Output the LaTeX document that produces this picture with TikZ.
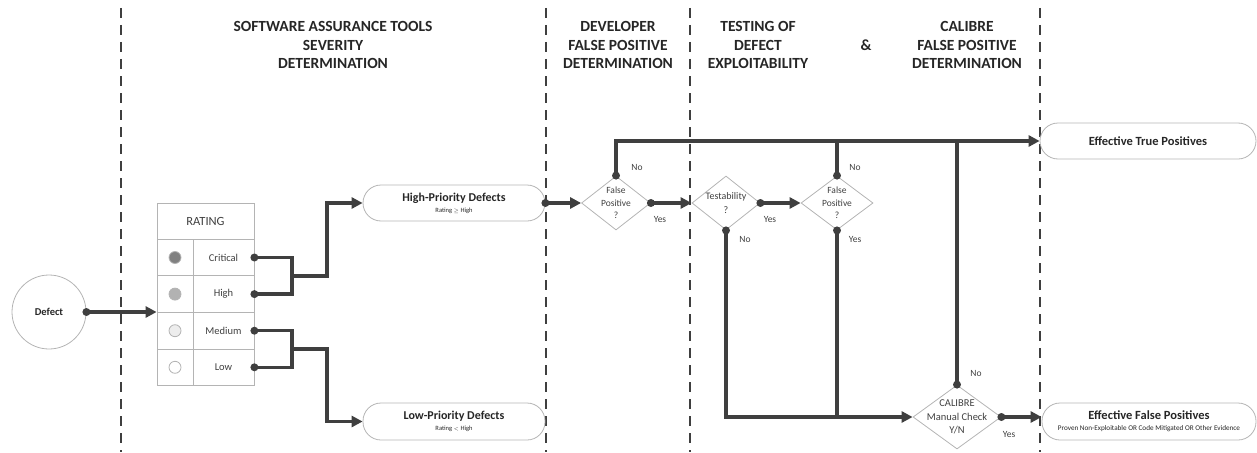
\documentclass[tikz,border=0pt]{standalone}
\usepackage{fontspec}
\setmainfont{Carlito}
\usetikzlibrary{arrows.meta,shapes.geometric}
\definecolor{conncol}{HTML}{3F3F3F}
\definecolor{bord}{HTML}{B4B4B4}
\definecolor{txt}{HTML}{262626}
\definecolor{lbltxt}{HTML}{404040}
\begin{document}
\begin{tikzpicture}[x=1pt,y=-1pt,
  lane/.style={draw=conncol, line width=1.6, dash pattern=on 10 off 7},
  title/.style={font=\bfseries\fontsize{15.5}{18.5}\selectfont, text=txt, align=center, inner sep=0},
  conn/.style={draw=conncol, line width=3.5, -{Triangle[length=11,width=11]}},
  link/.style={draw=conncol, line width=3.5},
  dec/.style={draw=bord, line width=0.8, shape=diamond, inner sep=0},
  dtext/.style={align=center, text=lbltxt, inner sep=0},
  pill/.style={draw=bord, line width=0.8, rounded corners=18, align=center, inner sep=0, text=txt},
  cell/.style={draw=bord, line width=0.8, inner sep=0, minimum height=36.6, font=\fontsize{10.5}{12}\selectfont, text=lbltxt},
  bullet/.style={circle, draw=bord, line width=0.8, minimum size=12, inner sep=0},
  lbl/.style={font=\fontsize{9.5}{11}\selectfont, text=lbltxt, inner sep=0},
]
\useasboundingbox (0,0) rectangle (1257,452);

% lanes
\draw[lane] (121,8) -- (121,452);
\draw[lane] (546,8) -- (546,452);
\draw[lane] (690,8) -- (690,452);
\draw[lane] (1040,8) -- (1040,452);

% titles
\node[title] (t1) at (333,45) {SOFTWARE ASSURANCE TOOLS\\SEVERITY\\DETERMINATION};
\node[title] (t2) at (618,45) {DEVELOPER\\FALSE POSITIVE\\DETERMINATION};
\node[title] (t3) at (758,45) {TESTING OF\\DEFECT\\EXPLOITABILITY};
\node[title] (t4) at (866,45) {\&};
\node[title] (t5) at (967,45) {CALIBRE\\FALSE POSITIVE\\DETERMINATION};

% defect
\node[circle, draw=bord, line width=0.8, minimum size=74, inner sep=0,
  font=\bfseries\fontsize{10.5}{12}\selectfont, text=txt] (defect) at (49,312) {Defect};

% rating table
\node[cell, minimum width=97, minimum height=36, font=\fontsize{12.5}{14}\selectfont] (hdr) at (205.5,221) {RATING};
\node[cell, minimum width=36] (c1) at (175,257.5) {};
\node[cell, minimum width=61] (crit) at (223.5,257.5) {Critical};
\node[cell, minimum width=36] (c2) at (175,294.1) {};
\node[cell, minimum width=61] (high) at (223.5,294.1) {High};
\node[cell, minimum width=36] (c3) at (175,330.7) {};
\node[cell, minimum width=61] (med) at (223.5,330.7) {Medium};
\node[cell, minimum width=36] (c4) at (175,367.3) {};
\node[cell, minimum width=61] (low) at (223.5,367.3) {Low};
\node[bullet, fill=black!50] (b1) at (c1) {};
\node[bullet, fill=black!30] (b2) at (c2) {};
\node[bullet, fill=black!7] (b3) at (c3) {};
\node[bullet, fill=white] (b4) at (c4) {};

% priority nodes
\node[pill, minimum width=182, minimum height=36] (hp) at (454,203)
  {{\bfseries\fontsize{12}{13}\selectfont High-Priority Defects}\\[-1pt]{\fontsize{6.5}{8}\selectfont Rating \ensuremath{\scriptstyle\geq} High}};
\node[pill, minimum width=182, minimum height=37] (lp) at (454,421.5)
  {{\bfseries\fontsize{12}{13}\selectfont Low-Priority Defects}\\[-1pt]{\fontsize{6.5}{8}\selectfont Rating \ensuremath{\scriptstyle<} High}};

% decisions
\node[dec, minimum width=69, minimum height=54,
  label={[dtext, font=\fontsize{9.5}{12.5}\selectfont]center:False\\Positive\\?}] (d1) at (616,203) {};
\node[dec, minimum width=68, minimum height=54,
  label={[dtext, font=\fontsize{10}{13.5}\selectfont]center:Testability\\?}] (tst) at (726,203) {};
\node[dec, minimum width=72, minimum height=54,
  label={[dtext, font=\fontsize{9.5}{12.5}\selectfont]center:False\\Positive\\?}] (d3) at (837,203) {};
\node[dec, minimum width=88, minimum height=64,
  label={[dtext, font=\fontsize{10.5}{13.5}\selectfont]center:CALIBRE\\Manual Check\\Y/N}] (cal) at (957,417) {};

% outcomes
\node[pill, minimum width=216, minimum height=36] (etp) at (1148,141)
  {\bfseries\fontsize{12.5}{14}\selectfont Effective True Positives};
\node[pill, minimum width=214, minimum height=37] (efp) at (1149,421.5)
  {{\bfseries\fontsize{12.5}{14}\selectfont Effective False Positives}\\[-1pt]{\fontsize{7.2}{8.5}\selectfont Proven Non-Exploitable OR Code Mitigated OR Other Evidence}};

% connectors
\coordinate (m1) at (292,276);
\coordinate (k1) at (327,276);
\coordinate (m2) at (292,349);
\coordinate (k2) at (327,349);

\draw[conn] (defect.east) -- (defect.east -| hdr.west);
\draw[link] (crit.east) -| (m1) |- (high.east);
\draw[link] (med.east) -| (m2) |- (low.east);
\draw[conn] (m1) -- (k1) |- (hp.west);
\draw[conn] (m2) -- (k2) |- (lp.west);

\draw[conn] (hp.east) -- (d1.west);
\draw[conn] (d1.east) -- (tst.west);
\draw[conn] (tst.east) -- (d3.west);
\draw[conn] (d1.north) |- (etp.west);
\draw[link] (d3.north) -- (d3.north |- etp.west);
\draw[link] (cal.north) -- (cal.north |- etp.west);
\draw[conn] (tst.south) |- (cal.west);
\draw[link] (d3.south) -- (d3.south |- cal.west);
\draw[conn] (cal.east) -- (cal.east -| efp.west);

% dots
\foreach \p in {defect.east, crit.east, high.east, med.east, low.east, hp.east,
  d1.east, d1.north, tst.east, tst.south, d3.north, d3.south, cal.north, cal.east}
  \fill[conncol] (\p) circle (4);

% labels
\node[lbl] (n1) at (637,167) {No};
\node[lbl] (y1) at (660,219) {Yes};
\node[lbl] (y2) at (770,219) {Yes};
\node[lbl] (n2) at (745,239) {No};
\node[lbl] (n3) at (855,167) {No};
\node[lbl] (y3) at (855,239) {Yes};
\node[lbl] (n4) at (976,373) {No};
\node[lbl] (y4) at (1009,434) {Yes};
\end{tikzpicture}
\end{document}
